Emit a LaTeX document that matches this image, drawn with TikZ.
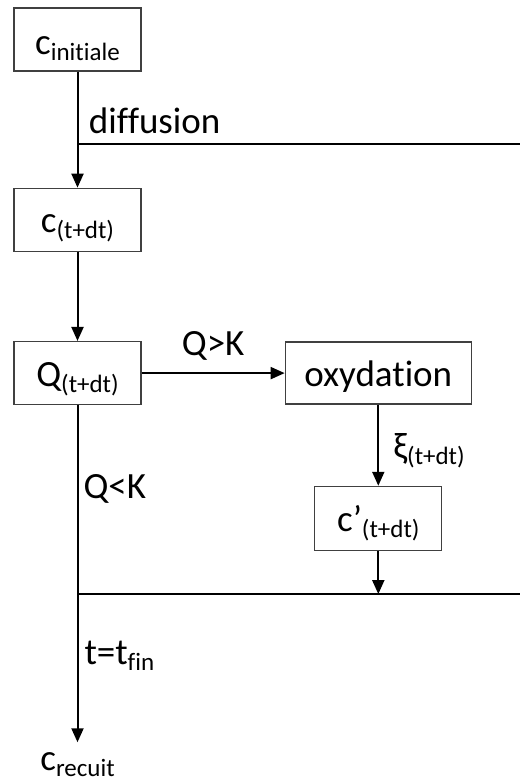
\documentclass[tikz,border=0pt]{standalone}
\usepackage{fontspec}
\setmainfont{Carlito}[Ligatures={NoCommon,NoContextual}]
\usetikzlibrary{arrows.meta,positioning}
\definecolor{boxline}{HTML}{404040}
\newcommand{\idx}[1]{\raisebox{-3pt}[\height][0pt]{\fontsize{12.5}{14}\selectfont #1}}

\begin{document}
\begin{tikzpicture}[
    x=0.5pt, y=-0.5pt,
    font=\fontsize{18.5}{22}\selectfont,
    stepbox/.style={
      draw=boxline,
      line width=0.65pt,
      minimum width=63.5pt,
      minimum height=31.5pt,
      inner sep=0pt,
      text height=15pt,
      text depth=2pt,
      align=center
    },
    lbl/.style={inner sep=0pt},
    arrow/.style={-{Triangle[length=7pt,width=6pt]}, line width=1pt},
    link/.style={line width=1pt}
  ]
    \useasboundingbox (0,0) rectangle (520,781);
    \coordinate (edge) at (520,0);

    \node[stepbox, text depth=0pt] (init) at (77.5,39.5) {c\idx{initiale}};
    \node[stepbox, below=58pt of init] (cnext) {c\idx{(t+dt)}};
    \node[stepbox, below=44.5pt of cnext] (qnext) {Q\idx{(t+dt)}};
    \node[stepbox, minimum width=93pt, minimum height=31pt, right=71.5pt of qnext]
      (oxy) {oxydation};
    \node[stepbox, minimum height=32pt, below=40.5pt of oxy]
      (cprime) {c’\idx{(t+dt)}};
    \node[lbl, text height=9pt, text depth=0pt, below=173.5pt of qnext]
      (final) {c\idx{recuit}};

    \coordinate[below=36pt of init.south] (split);
    \coordinate[below=21.5pt of cprime.south] (merge);

    \draw[arrow] (init) -- (cnext);
    \draw[link] (split) -- (split -| edge);
    \node[lbl, anchor=base west] at ([shift={(5.5pt,5pt)}]split) {diffusion};

    \draw[arrow] (cnext) -- (qnext);
    \draw[arrow] (qnext) --
      node[lbl, anchor=base, yshift=9pt] {Q>K} (oxy);
    \draw[arrow] (oxy) --
      node[lbl, right=7pt, yshift=-2pt] {ξ\idx{(t+dt)}} (cprime);
    \draw[arrow] (cprime) -- (merge);
    \draw[link] (qnext.south |- merge) -- (merge -| edge);

    \draw[arrow, shorten >=5pt] (qnext) --
      node[lbl, pos=0.27, anchor=base west, xshift=2.5pt] {Q<K}
      node[lbl, pos=0.748, anchor=base west, xshift=3pt] {t=t\idx{fin}} (final);
  \end{tikzpicture}
\end{document}
